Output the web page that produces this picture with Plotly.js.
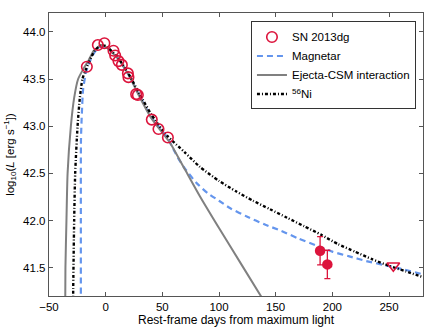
<!DOCTYPE html>
<html>
<head>
<meta charset="utf-8">
<script src="https://cdn.plot.ly/plotly-3.0.1.min.js"></script>
<style>
  html, body { margin: 0; padding: 0; background: #fff; }
  #chart { width: 436px; height: 329px; }
</style>
</head>
<body>
<div id="chart"></div>
<script>
/* ===== observed bolometric light curve (SN 2013dg) ===== */
const obsDays = [-16.6, -6.9, -1.1, 6.9, 8.4, 11.3, 14.3, 19.6, 20.1, 26.9, 28.4, 40.7, 46.6, 54.9];
const obsLogL = [43.63, 43.86, 43.88, 43.80, 43.75, 43.69, 43.65, 43.56, 43.52, 43.34, 43.33, 43.07, 42.97, 42.88];

const lateDays = [189.2, 195.6];
const lateLogL = [41.68, 41.535];
const lateErr = [0.15, 0.15];

const limitDays = [253.8];
const limitLogL = [41.52];

/* ===== model curves ===== */
const magDays = [-21.9, -21.9, -21.8, -21.0, -19.9, -17.5, -14.6, -10, -5, 0, 10, 20, 30, 40, 50, 55, 60, 65, 70, 80, 90, 100, 110, 125, 140, 155, 170, 185, 200, 215, 230, 245, 260, 280];
const magLogL = [40.8, 42.0, 42.85, 43.14, 43.39, 43.56, 43.67, 43.78, 43.84, 43.84, 43.73, 43.55, 43.32, 43.10, 42.95, 42.87, 42.75, 42.64, 42.55, 42.40, 42.29, 42.21, 42.13, 42.04, 41.96, 41.89, 41.81, 41.74, 41.67, 41.62, 41.57, 41.53, 41.49, 41.43];

const csmDays = [-35.8, -35.5, -34.6, -33.6, -30.7, -27.8, -24.3, -20, -15, -10.5, -4, 0, 10, 20, 30, 40, 50, 57, 70, 83, 100, 120, 140];
const csmLogL = [40.8, 41.5, 42.0, 42.5, 43.0, 43.3, 43.5, 43.6, 43.7, 43.8, 43.86, 43.84, 43.73, 43.55, 43.31, 43.09, 42.93, 42.82, 42.54, 42.26, 41.92, 41.53, 41.14];

const niDays = [-28.8, -28.7, -27.8, -26.9, -24.8, -22.8, -20.5, -17.5, -14, -9.6, -4, 0, 10, 20, 30, 40, 50, 55, 70, 83, 100, 115, 130, 145, 160, 175, 190, 205, 220, 235, 250, 265, 280];
const niLogL = [40.8, 41.2, 42.0, 42.5, 43.0, 43.3, 43.5, 43.6, 43.7, 43.8, 43.86, 43.85, 43.74, 43.56, 43.34, 43.13, 42.96, 42.89, 42.72, 42.57, 42.42, 42.31, 42.21, 42.12, 42.03, 41.94, 41.85, 41.75, 41.67, 41.59, 41.52, 41.46, 41.40];

const red = "#dc143c";

const traces = [
  {
    x: magDays, y: magLogL, type: "scatter", mode: "lines",
    line: { color: "#6495ed", width: 2.2, dash: "6px,4px", shape: "spline", smoothing: 0.6 },
    name: "Magnetar", legendrank: 2
  },
  {
    x: csmDays, y: csmLogL, type: "scatter", mode: "lines",
    line: { color: "#808080", width: 2, shape: "spline", smoothing: 0.6 },
    name: "Ejecta-CSM interaction", legendrank: 3
  },
  {
    x: niDays, y: niLogL, type: "scatter", mode: "lines",
    line: { color: "#000000", width: 2.4, dash: "3px,2px,1px,2px", shape: "spline", smoothing: 0.6 },
    name: "<sup>56</sup>Ni", legendrank: 4
  },
  {
    x: obsDays, y: obsLogL, type: "scatter", mode: "markers",
    marker: { symbol: "circle-open", size: 10.5, color: red, line: { width: 1.6, color: red } },
    name: "SN 2013dg", legendrank: 1
  },
  {
    x: lateDays, y: lateLogL, type: "scatter", mode: "markers",
    marker: { symbol: "circle", size: 10.5, color: red },
    error_y: { type: "data", array: lateErr, color: red, thickness: 1.3, width: 3 },
    showlegend: false
  },
  {
    x: limitDays, y: limitLogL, type: "scatter", mode: "markers",
    marker: { symbol: "triangle-down-open", size: 11, color: red, line: { width: 1.6, color: red } },
    showlegend: false
  }
];

const axisBase = {
  showline: true, linecolor: "#555", linewidth: 1.2, mirror: "ticks",
  ticks: "inside", ticklen: 4, tickcolor: "#555",
  showgrid: false, zeroline: false,
  tickfont: { size: 11.5, color: "#000" }
};

const layout = {
  width: 436, height: 329,
  margin: { l: 49, r: 13, t: 13, b: 33 },
  paper_bgcolor: "#fff", plot_bgcolor: "#fff",
  font: { family: "Liberation Sans, Arial, sans-serif", color: "#000" },
  showlegend: true,
  legend: {
    x: 0.54, y: 0.97, xanchor: "left", yanchor: "top",
    bgcolor: "#fff", bordercolor: "#333", borderwidth: 1,
    font: { size: 11.5 }, itemwidth: 30, tracegroupgap: 0
  },
  xaxis: {
    ...axisBase, range: [-50, 280], tickvals: [-50, 0, 50, 100, 150, 200, 250],
    ticktext: ["\u221250", "0", "50", "100", "150", "200", "250"],
    title: { text: "Rest-frame days from maximum light", font: { size: 12 }, standoff: 3 }
  },
  yaxis: {
    ...axisBase, range: [41.2, 44.2], tickvals: [41.5, 42, 42.5, 43, 43.5, 44],
    tickformat: ".1f",
    title: { text: "log<sub>10</sub>(<i>L</i> [erg s<sup>\u22121</sup>])", font: { size: 11.5 }, standoff: 6 }
  }
};

Plotly.newPlot("chart", traces, layout, { displayModeBar: false, staticPlot: true });
</script>
</body>
</html>
